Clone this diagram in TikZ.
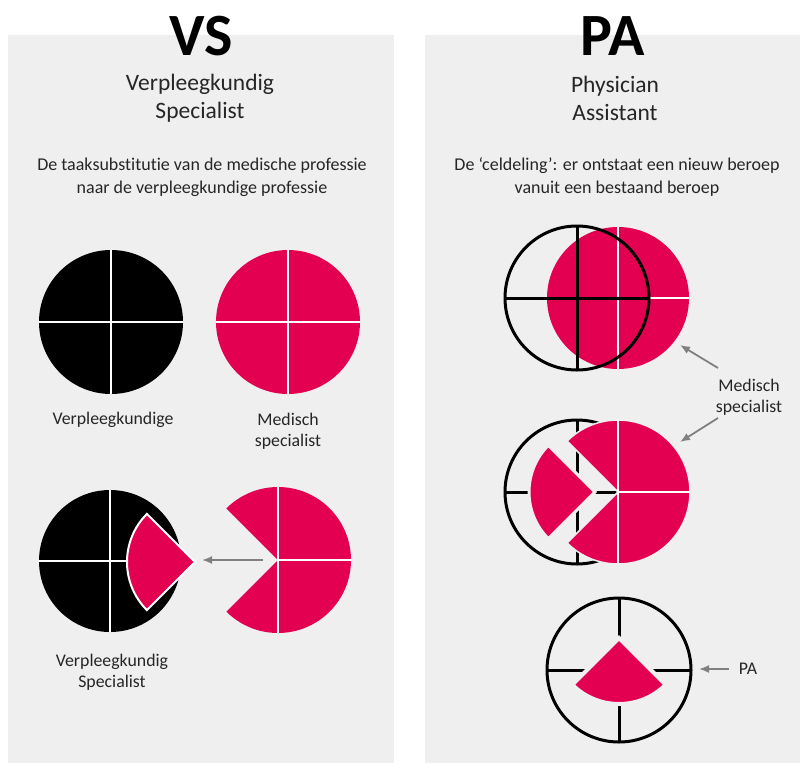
\documentclass[tikz,border=0pt]{standalone}
\usepackage{fontspec}
\setmainfont{Carlito}[Ligatures=NoCommon]
\usepackage{tikz}
\usetikzlibrary{arrows.meta}

\definecolor{paneelgrijs}{RGB}{239,239,239}
\definecolor{roze}{RGB}{228,0,80}
\definecolor{tekst}{RGB}{38,38,38}
\definecolor{pijlgrijs}{RGB}{128,128,128}

\begin{document}
\begin{tikzpicture}[x=1pt,y=-1pt]
\tikzset{ >={Latex[length=10pt,width=8pt]}, inner sep=0pt, outer sep=0pt, }
\tikzset{
  kop/.style={font=\fontsize{60}{60}\selectfont\bfseries},
  ondertitel/.style={align=center, text=tekst, font=\fontsize{23.5}{28}\selectfont},
  uitleg/.style={align=center, text=tekst, font=\fontsize{18}{23}\selectfont},
  bijschrift/.style={align=center, text=tekst, font=\fontsize{17.8}{21}\selectfont},
  kruis/.style={white, line width=2.5pt},
  zwartkruis/.style={black, line width=3pt},
  pijl/.style={->, draw=pijlgrijs, line width=1.8pt},
}

\useasboundingbox (0,0) rectangle (800,763);
\fill [paneelgrijs] (8,35) rectangle (394,763);
\fill [paneelgrijs] (425,35) rectangle (800,763);

\node [kop] (VS) at (201,36) {VS};
\node [kop] (PA) at (613,36) {PA};
\node [ondertitel] (vsNaam) at (200,98) {Verpleegkundig\\Specialist};
\node [ondertitel] (paNaam) at (615,98) {Physician\\Assistant};
\node [uitleg] (vsUitleg) at (202,177) {De taaksubstitutie van de medische professie\\naar de verpleegkundige professie};
\node [uitleg] (paUitleg) at (617,177) {De ‘celdeling’: er ontstaat een nieuw beroep\\vanuit een bestaand beroep};

% VS: twee beroepen
\fill (111,322) circle[radius=72];
\draw [kruis] (111,250) -- (111,394) (39,322) -- (183,322);
\fill [roze] (288,322) circle[radius=72];
\draw [kruis] (288,250) -- (288,394) (216,322) -- (360,322);
\node [bijschrift] (vsVpk) at (113,420) {Verpleegkundige};
\node [bijschrift] (vsMs) at (288,431) {Medisch\\specialist};

% VS: taaksubstitutie
\fill (110,561) circle[radius=71];
\draw [kruis] (110,490) -- (110,632) (39,561) -- (181,561);
\filldraw [fill=roze, draw=white, line width=2pt] (195,562) -- ++(135:68) arc[start angle=135, end angle=225, radius=68] -- cycle;
\fill [roze] (278,560) -- ++(135:73) arc[start angle=135, end angle=-135, radius=73] -- cycle;
\draw [kruis] (278,487) -- (278,633) (278,560) -- (351,560);
\coordinate (vsBron) at (263,560);
\coordinate (vsDoel) at (202,560);
\draw [pijl] (vsBron) -- (vsDoel);
\node [bijschrift] (vsVs) at (112,672) {Verpleegkundig\\Specialist};

% PA: overlap
\fill [roze] (618,298) circle[radius=71];
\draw [kruis] (618,227) -- (618,369) (547,298) -- (689,298);
\draw [zwartkruis] (577,298) circle[radius=72];
\draw [zwartkruis] (577,226) -- (577,370) (505,298) -- (649,298);

% PA: celdeling
\draw [zwartkruis] (577,492) circle[radius=72];
\draw [zwartkruis] (577,420) -- (577,564) (505,492) -- (649,492);
\filldraw [fill=roze, draw=paneelgrijs, line width=1.5pt] (618,492) -- ++(135:72) arc[start angle=135, end angle=-135, radius=72] -- cycle;
\draw [kruis] (618,420) -- (618,564) (618,492) -- (690,492);
\filldraw [fill=roze, draw=paneelgrijs, line width=3pt] (595,492) -- ++(135:66) arc[start angle=135, end angle=225, radius=66] -- cycle;

\node [bijschrift] (paMs) at (749,397) {Medisch\\specialist};
\coordinate (msBoven) at (718,368);
\coordinate (msOnder) at (718,418);
\coordinate (paBoven) at (680,345);
\coordinate (paMidden) at (680,442);
\draw [pijl] (msBoven) -- (paBoven);
\draw [pijl] (msOnder) -- (paMidden);

% PA: nieuw beroep
\draw [zwartkruis] (619,670) circle[radius=72];
\draw [zwartkruis] (619,598) -- (619,742) (547,670) -- (691,670);
\filldraw [fill=roze, draw=paneelgrijs, line width=4pt] (619,638) -- ++(45:66) arc[start angle=45, end angle=135, radius=66] -- cycle;

\node [bijschrift] (paLabel) at (748,669) {PA};
\coordinate (paDoel) at (699,669);
\draw [pijl] ([xshift=-10pt]paLabel.west) -- (paDoel);

\end{tikzpicture}
\end{document}
